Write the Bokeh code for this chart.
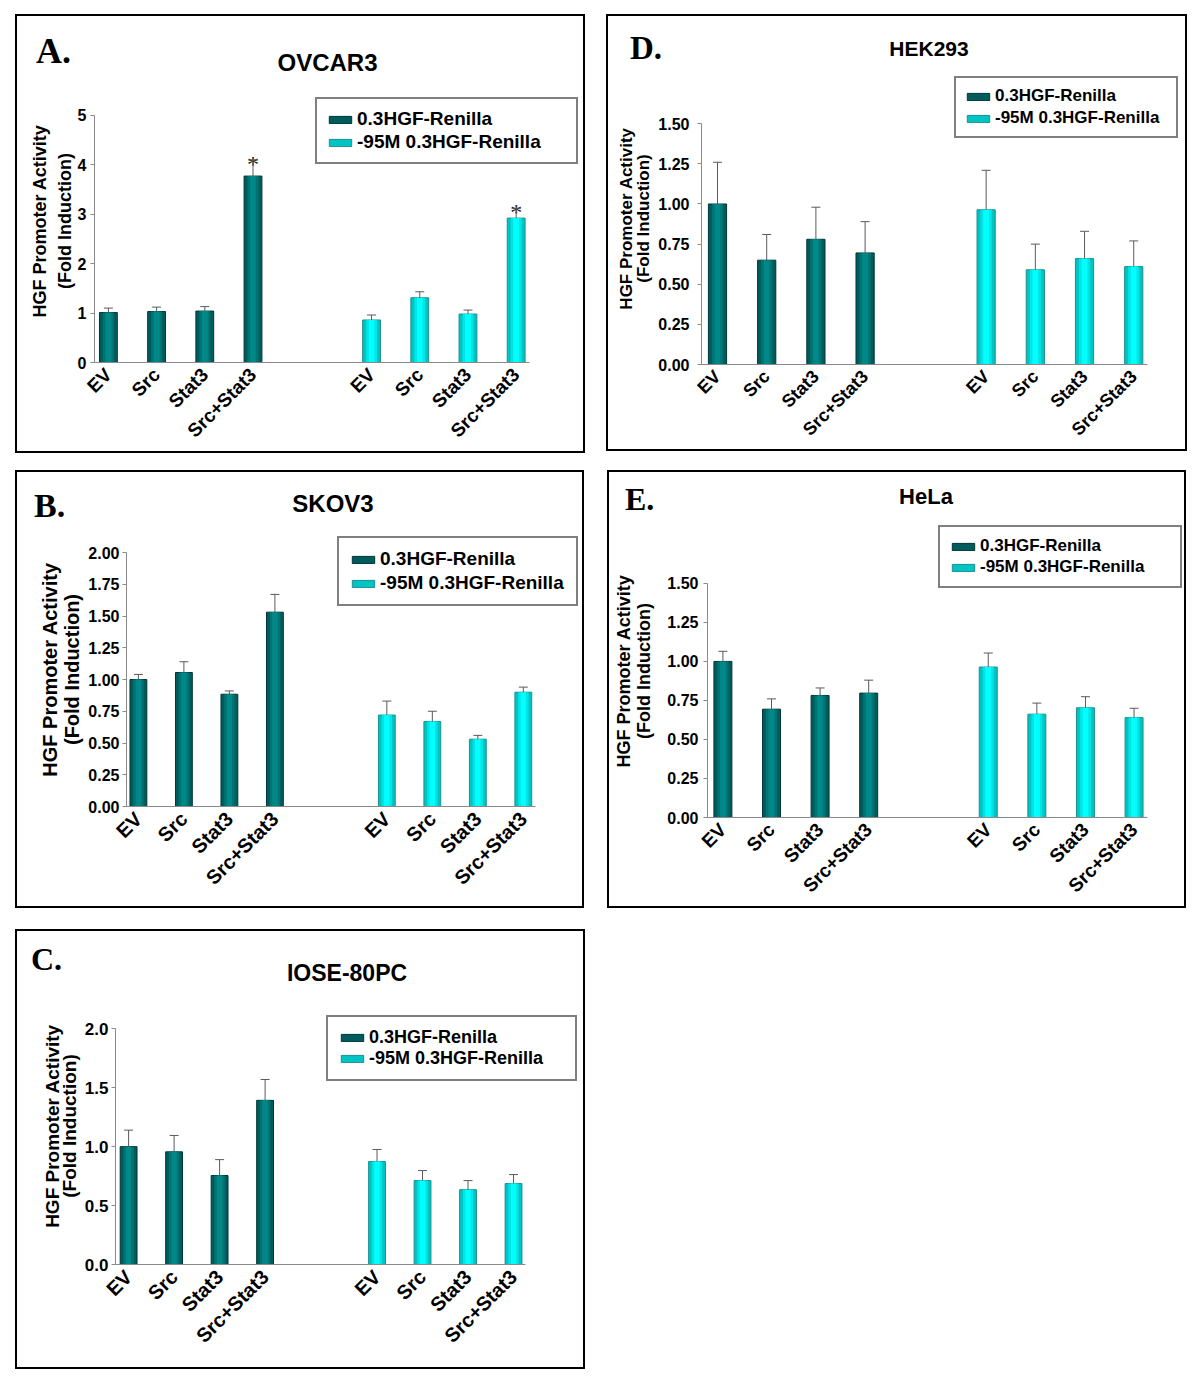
import numpy as np
from bokeh.plotting import figure
from bokeh.models import (ColumnDataSource, Whisker, TeeHead, Legend, LegendItem,
                          FixedTicker, Range1d, NumeralTickFormatter, Spacer, Div)
from bokeh.layouts import column, row
from bokeh.embed import file_html
from bokeh.resources import INLINE
from bokeh.core.properties import value

# ---------------- data ----------------
conditions = ["EV", "Src", "Stat3", "Src+Stat3"]
series_names = ["0.3HGF-Renilla", "-95M 0.3HGF-Renilla"]
ylabel = "HGF Promoter Activity\n(Fold Induction)"

ovcar3_wt = [1.01, 1.03, 1.04, 3.77]
ovcar3_wt_err = [0.09, 0.09, 0.09, 0.33]
ovcar3_mut = [0.86, 1.31, 0.98, 2.92]
ovcar3_mut_err = [0.10, 0.12, 0.08, 0.20]
ovcar3_wt_sig = ["", "", "", "*"]
ovcar3_mut_sig = ["", "", "", "*"]
ovcar3_yticks = [0, 1, 2, 3, 4, 5]

hek293_wt = [1.00, 0.65, 0.78, 0.695]
hek293_wt_err = [0.26, 0.16, 0.20, 0.195]
hek293_mut = [0.964, 0.59, 0.66, 0.61]
hek293_mut_err = [0.246, 0.16, 0.17, 0.16]
hek293_yticks = [0, 0.25, 0.5, 0.75, 1.0, 1.25, 1.5]

skov3_wt = [1.00, 1.055, 0.884, 1.53]
skov3_wt_err = [0.04, 0.085, 0.026, 0.14]
skov3_mut = [0.72, 0.67, 0.53, 0.90]
skov3_mut_err = [0.11, 0.08, 0.03, 0.04]
skov3_yticks = [0, 0.25, 0.5, 0.75, 1.0, 1.25, 1.5, 1.75, 2.0]

hela_wt = [1.00, 0.694, 0.782, 0.797]
hela_wt_err = [0.065, 0.066, 0.048, 0.083]
hela_mut = [0.964, 0.662, 0.703, 0.64]
hela_mut_err = [0.09, 0.071, 0.071, 0.06]
hela_yticks = [0, 0.25, 0.5, 0.75, 1.0, 1.25, 1.5]

iose_wt = [1.00, 0.956, 0.755, 1.393]
iose_wt_err = [0.14, 0.139, 0.135, 0.177]
iose_mut = [0.874, 0.712, 0.635, 0.687]
iose_mut_err = [0.102, 0.085, 0.077, 0.076]
iose_yticks = [0, 0.5, 1.0, 1.5, 2.0]

# ---------------- style ----------------
GAP = 2.46
BAR_W = 0.37
DARK_SHADES = ["#005C5C", "#007373", "#008888"]
DARK_LINE = "#003535"
CYAN_SHADES = ["#00C4C4", "#00E4E4", "#00FFFF"]
CYAN_LINE = "#1F8F8F"
ERR = "#5A5A5A"
AXIS = "#8A8A8A"
SANS, SERIF = "Liberation Sans", "Liberation Serif"


def make_header(W, Hh, letter, title, g):
    lx, ly = g["letter_xy"]
    tx, ty = g["title_xy"]
    lfs, tfs = g["letter_fs"], g["title_fs"]
    html = (
        f'<div style="position:relative;width:{W}px;height:{Hh}px;overflow:hidden;background:white;">'
        f'<span style="position:absolute;left:{lx}px;top:{ly - 0.8375 * lfs:.1f}px;'
        f"font-family:'{SERIF}';font-weight:bold;font-size:{lfs}px;line-height:1;"
        f'white-space:nowrap;color:black;">{letter}</span>'
        f'<span style="position:absolute;left:{tx}px;top:{ty}px;transform:translate(-50%,-50%);'
        f"font-family:'{SANS}';font-weight:bold;font-size:{tfs}px;line-height:1;"
        f'white-space:nowrap;color:black;">{title}</span>'
        '</div>'
    )
    return Div(text=html, width=W, height=Hh, margin=(0, 0, 0, 0))


def make_panel(g, letter, title, wt, wt_err, mut, mut_err, yticks, yfmt,
               wt_sig=None, mut_sig=None):
    W, H, Hh = g["W"], g["H"], g["Hh"]
    Hc = H - Hh
    fl, fr = g["fl"], 1
    fb = g["fb"] - Hh
    fw, fh = W - fl - fr, fb
    slot, ppu = g["slot"], g["ppu"]
    x0 = -(g["ev"] - fl) / slot
    x1 = x0 + fw / slot
    y1 = fh / ppu

    p = figure(width=W, height=Hc, x_range=Range1d(x0, x1), y_range=Range1d(0, y1),
               output_backend="svg", toolbar_location=None, title=None,
               min_border_left=fl, min_border_right=fr, min_border_top=0,
               min_border_bottom=Hc - fb)
    p.margin = (0, 0, 0, 0)
    p.outline_line_color = None
    p.xgrid.visible = False
    p.ygrid.visible = False
    p.background_fill_color = "white"
    p.border_fill_color = "white"

    xs_wt = [float(i) for i in range(len(conditions))]
    xs_mut = [float(len(conditions) - 1 + GAP + i) for i in range(len(conditions))]

    s1 = ColumnDataSource(dict(x=xs_wt, top=wt, up=[v + e for v, e in zip(wt, wt_err)],
                               sig=wt_sig or [""] * len(wt)))
    s2 = ColumnDataSource(dict(x=xs_mut, top=mut, up=[v + e for v, e in zip(mut, mut_err)],
                               sig=mut_sig or [""] * len(mut)))

    for s in (s1, s2):
        p.add_layout(Whisker(source=s, base="x", lower="top", upper="up",
                             line_color=ERR, line_width=1, lower_head=None,
                             upper_head=TeeHead(size=9, line_color=ERR, line_width=1),
                             level="glyph"))
    rends = []
    for s, shades, lc in ((s1, DARK_SHADES, DARK_LINE), (s2, CYAN_SHADES, CYAN_LINE)):
        base = p.vbar(x="x", top="top", width=BAR_W, source=s, fill_color=shades[0],
                      line_color=lc, line_width=1)
        p.vbar(x="x", top="top", width=BAR_W * 0.62, source=s, fill_color=shades[1],
               line_color=None)
        p.vbar(x="x", top="top", width=BAR_W * 0.32, source=s, fill_color=shades[2],
               line_color=None)
        rends.append(base)
    for s in (s1, s2):
        p.text(x="x", y="up", text="sig", source=s, text_font=value(SERIF),
               text_font_size="24px", text_align="center", text_baseline="alphabetic",
               y_offset=4, text_color="#222222")

    # axes
    p.yaxis.ticker = FixedTicker(ticks=yticks)
    p.yaxis.formatter = NumeralTickFormatter(format=yfmt)
    p.yaxis.bounds = (0, yticks[-1])
    p.yaxis.axis_line_color = AXIS
    p.yaxis.major_tick_line_color = AXIS
    p.yaxis.major_tick_out = 4
    p.yaxis.major_tick_in = 0
    p.yaxis.minor_tick_line_color = None
    p.yaxis.major_label_standoff = g["ystand"]
    p.yaxis.major_label_text_font = SANS
    p.yaxis.major_label_text_font_style = "bold"
    p.yaxis.major_label_text_font_size = f"{g['ytick_fs']}px"
    p.yaxis.major_label_text_color = "black"
    p.yaxis.axis_label = ylabel
    p.yaxis.axis_label_text_font = SANS
    p.yaxis.axis_label_text_font_style = "bold"
    p.yaxis.axis_label_text_font_size = f"{g['ylab_fs']}px"
    p.yaxis.axis_label_text_line_height = g["ylab_lh"]
    p.yaxis.axis_label_text_color = "black"
    p.yaxis.axis_label_standoff = g["ylab_stand"]

    ticks = xs_wt + xs_mut
    p.xaxis.ticker = FixedTicker(ticks=ticks)
    p.xaxis.major_label_overrides = {t: c for t, c in zip(ticks, conditions + conditions)}
    p.xaxis.bounds = (x0, xs_mut[-1] + 0.27)
    p.xaxis.axis_line_color = AXIS
    p.xaxis.major_tick_line_color = None
    p.xaxis.minor_tick_line_color = None
    p.xaxis.major_label_orientation = np.pi / 4
    p.xaxis.major_label_standoff = 3
    p.xaxis.major_label_text_font = SANS
    p.xaxis.major_label_text_font_style = "bold"
    p.xaxis.major_label_text_font_size = f"{g['xlab_fs']}px"
    p.xaxis.major_label_text_color = "black"

    # legend
    pad, gw, gs = g["leg_pad"], 28, 3
    leg = Legend(items=[LegendItem(label=series_names[0], renderers=[rends[0]]),
                        LegendItem(label=series_names[1], renderers=[rends[1]])],
                 location=g["leg_xy"], padding=pad, spacing=g["leg_sp"], margin=0,
                 glyph_width=gw, glyph_height=9, label_standoff=gs,
                 label_height=g["leg_lh"], label_width=g["leg_w"] - 2 * pad - gw - gs,
                 label_text_font=SANS, label_text_font_style="bold",
                 label_text_font_size=f"{g['leg_fs']}px", label_text_color="black",
                 border_line_color="black", border_line_width=2,
                 background_fill_color="white", background_fill_alpha=1.0)
    p.add_layout(leg)

    header = make_header(W, Hh, letter, title, g)
    return column(header, p, margin=(0, 0, 0, 0),
                  styles={"border": "2px solid black", "box-sizing": "content-box",
                          "background-color": "white"})


geo_A = dict(W=566, H=435, Hh=63, fl=77, fb=346, ppu=49.45, ev=90.9, slot=48.2,
             ystand=4, ytick_fs=16, ylab_fs=18, ylab_lh=1.25, ylab_stand=0,
             xlab_fs=19, leg_xy=(221, 198), leg_w=259, leg_pad=9, leg_sp=1, leg_lh=21,
             leg_fs=19, title_xy=(310.5, 46.5), title_fs=24, letter_xy=(19, 47), letter_fs=36)
geo_D = dict(W=577, H=433, Hh=56, fl=93, fb=350, ppu=161.6, ev=109, slot=49.2,
             ystand=8, ytick_fs=16, ylab_fs=17, ylab_lh=0.9, ylab_stand=2,
             xlab_fs=18, leg_xy=(253, 226), leg_w=220, leg_pad=8, leg_sp=2, leg_lh=18,
             leg_fs=17, title_xy=(321, 31.5), title_fs=21, letter_xy=(22, 44), letter_fs=33)
geo_B = dict(W=565, H=434, Hh=60, fl=109, fb=334, ppu=127.0, ev=120.9, slot=45.5,
             ystand=3, ytick_fs=16, ylab_fs=20, ylab_lh=1.0, ylab_stand=2,
             xlab_fs=20, leg_xy=(211, 200), leg_w=237, leg_pad=10, leg_sp=2, leg_lh=22,
             leg_fs=19, title_xy=(316, 32), title_fs=24, letter_xy=(17, 45), letter_fs=34)
geo_E = dict(W=575, H=434, Hh=52, fl=98, fb=346, ppu=156.6, ev=113.4, slot=48.6,
             ystand=5, ytick_fs=16, ylab_fs=18, ylab_lh=1.0, ylab_stand=10,
             xlab_fs=19, leg_xy=(231, 229), leg_w=240, leg_pad=9, leg_sp=1, leg_lh=18,
             leg_fs=17, title_xy=(317, 25), title_fs=22, letter_xy=(16, 38), letter_fs=32)
geo_C = dict(W=566, H=436, Hh=56, fl=98, fb=333, ppu=117.85, ev=111.1, slot=45.5,
             ystand=3, ytick_fs=17, ylab_fs=19, ylab_lh=0.8, ylab_stand=2,
             xlab_fs=20, leg_xy=(211, 183), leg_w=247, leg_pad=10, leg_sp=0, leg_lh=21,
             leg_fs=18, title_xy=(330, 42), title_fs=23, letter_xy=(14, 39), letter_fs=32)

pA = make_panel(geo_A, "A.", "OVCAR3", ovcar3_wt, ovcar3_wt_err, ovcar3_mut, ovcar3_mut_err,
                ovcar3_yticks, "0", ovcar3_wt_sig, ovcar3_mut_sig)
pD = make_panel(geo_D, "D.", "HEK293", hek293_wt, hek293_wt_err, hek293_mut, hek293_mut_err,
                hek293_yticks, "0.00")
pB = make_panel(geo_B, "B.", "SKOV3", skov3_wt, skov3_wt_err, skov3_mut, skov3_mut_err,
                skov3_yticks, "0.00")
pE = make_panel(geo_E, "E.", "HeLa", hela_wt, hela_wt_err, hela_mut, hela_mut_err,
                hela_yticks, "0.00")
pC = make_panel(geo_C, "C.", "IOSE-80PC", iose_wt, iose_wt_err, iose_mut, iose_mut_err,
                iose_yticks, "0.0")

layout = column(
    Spacer(width=10, height=14),
    row(Spacer(width=15, height=10), pA, Spacer(width=21, height=10), pD),
    Spacer(width=10, height=17),
    row(Spacer(width=15, height=10), pB, Spacer(width=23, height=10), pE),
    Spacer(width=10, height=21),
    row(Spacer(width=15, height=10), pC),
)
open("out.html", "w").write(file_html(layout, INLINE))
